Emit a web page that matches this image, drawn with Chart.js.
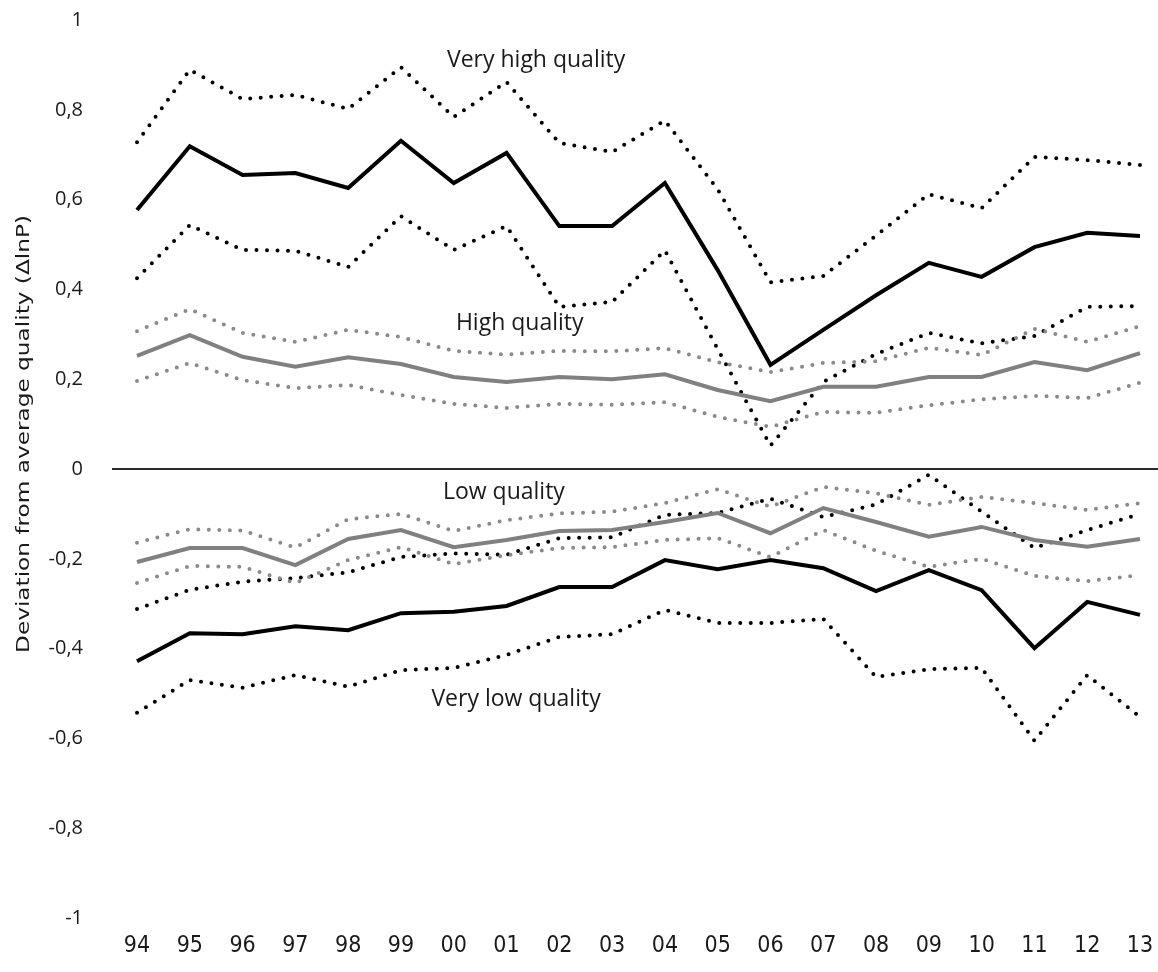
<!DOCTYPE html>
<html>
<head>
<meta charset="utf-8">
<script src="https://cdn.jsdelivr.net/npm/chart.js@4.4.1/dist/chart.umd.min.js"></script>
<style>
    html, body { margin: 0; padding: 0; background: #ffffff; }
    #wrap { width: 1158px; height: 972px; position: relative; }
</style>
</head>
<body>
<div id="wrap"><canvas id="grafico" width="1158" height="972"></canvas></div>
<script>
// Categorias (anos)
const anos = ['94', '95', '96', '97', '98', '99', '00', '01', '02', '03', '04', '05', '06', '07', '08', '09', '10', '11', '12', '13'];

// Very high quality
const veryHighMedia = [0.577, 0.719, 0.655, 0.659, 0.626, 0.731, 0.637, 0.704, 0.541, 0.541, 0.637, 0.443, 0.232, 0.31, 0.387, 0.459, 0.428, 0.494, 0.526, 0.519];
const veryHighSup = [0.728, 0.889, 0.824, 0.833, 0.802, 0.895, 0.784, 0.862, 0.726, 0.706, 0.776, 0.623, 0.416, 0.43, 0.52, 0.612, 0.581, 0.695, 0.688, 0.677];
const veryHighInf = [0.425, 0.543, 0.488, 0.486, 0.45, 0.563, 0.488, 0.541, 0.361, 0.372, 0.487, 0.267, 0.052, 0.194, 0.256, 0.303, 0.28, 0.296, 0.361, 0.363];

// High quality
const highMedia = [0.252, 0.298, 0.25, 0.228, 0.249, 0.234, 0.205, 0.194, 0.205, 0.2, 0.211, 0.176, 0.151, 0.183, 0.183, 0.205, 0.205, 0.238, 0.22, 0.258];
const highSup = [0.307, 0.356, 0.303, 0.283, 0.31, 0.294, 0.263, 0.255, 0.263, 0.262, 0.269, 0.238, 0.216, 0.236, 0.24, 0.27, 0.254, 0.312, 0.283, 0.318];
const highInf = [0.196, 0.236, 0.198, 0.18, 0.187, 0.165, 0.145, 0.136, 0.145, 0.143, 0.149, 0.116, 0.094, 0.127, 0.125, 0.142, 0.155, 0.163, 0.158, 0.192];

// Low quality
const lowMedia = [-0.207, -0.176, -0.176, -0.214, -0.156, -0.136, -0.174, -0.158, -0.138, -0.136, -0.118, -0.098, -0.143, -0.087, -0.118, -0.151, -0.129, -0.158, -0.173, -0.156];
const lowSup = [-0.164, -0.134, -0.137, -0.175, -0.112, -0.1, -0.138, -0.114, -0.099, -0.095, -0.076, -0.045, -0.084, -0.04, -0.054, -0.08, -0.062, -0.076, -0.091, -0.076];
const lowInf = [-0.254, -0.216, -0.218, -0.254, -0.203, -0.174, -0.212, -0.192, -0.176, -0.174, -0.158, -0.154, -0.196, -0.136, -0.182, -0.218, -0.2, -0.238, -0.25, -0.236];

// Very low quality
const veryLowMedia = [-0.428, -0.366, -0.368, -0.35, -0.359, -0.321, -0.318, -0.305, -0.263, -0.263, -0.203, -0.223, -0.203, -0.221, -0.272, -0.225, -0.27, -0.399, -0.296, -0.325];
const veryLowSup = [-0.312, -0.269, -0.251, -0.243, -0.23, -0.196, -0.188, -0.191, -0.154, -0.152, -0.102, -0.098, -0.066, -0.107, -0.079, -0.013, -0.095, -0.176, -0.136, -0.1];
const veryLowInf = [-0.543, -0.47, -0.487, -0.459, -0.485, -0.448, -0.443, -0.414, -0.374, -0.368, -0.314, -0.343, -0.343, -0.334, -0.463, -0.446, -0.443, -0.605, -0.459, -0.552];

// Eixo Y
const yTicks = [-1, -0.8, -0.6, -0.4, -0.2, 0, 0.2, 0.4, 0.6, 0.8, 1];
const tituloY = 'Deviation from average quality (ΔlnP)';

// Rotulos das faixas
const rotulos = ['Very high quality', 'High quality', 'Low quality', 'Very low quality'];

const PRETO = '#000000';
const CINZA = '#808080';
const CINZA_PONTO = '#8a8a8a';

function linhaCheia(dados, cor) {
    return {
        data: dados,
        borderColor: cor,
        borderWidth: 4,
        pointRadius: 0,
        tension: 0,
        fill: false
    };
}

function linhaPontilhada(dados, cor) {
    return {
        data: dados,
        borderColor: cor,
        borderWidth: 4,
        borderDash: [0, 10.5],
        borderCapStyle: 'round',
        pointRadius: 0,
        tension: 0,
        fill: false
    };
}

// Linha do zero, textos das faixas e titulo do eixo Y
const extras = {
    id: 'extras',
    beforeDatasetsDraw(chart) {
        const ctx = chart.ctx;
        const y = chart.scales.y.getPixelForValue(0);
        ctx.save();
        ctx.strokeStyle = '#2b2b2b';
        ctx.lineWidth = 2;
        ctx.beginPath();
        ctx.moveTo(chart.chartArea.left - 25, y);
        ctx.lineTo(chart.width, y);
        ctx.stroke();
        ctx.restore();
    },
    afterDatasetsDraw(chart) {
        const ctx = chart.ctx;
        const xs = chart.scales.x;
        const ys = chart.scales.y;
        const lugares = [[7.56, 0.911], [7.25, 0.325], [6.95, -0.053], [7.18, -0.514]];
        ctx.save();
        ctx.fillStyle = '#1a1a1a';
        ctx.font = '23px "Open Sans"';
        ctx.textAlign = 'center';
        ctx.textBaseline = 'middle';
        rotulos.forEach((txt, i) => {
            ctx.fillText(txt, xs.getPixelForValue(lugares[i][0]), ys.getPixelForValue(lugares[i][1]));
        });
        ctx.restore();

        // titulo do eixo Y (esticado como no original)
        ctx.save();
        ctx.font = '18px "DejaVu Sans Condensed", "Open Sans", sans-serif';
        ctx.fillStyle = '#1a1a1a';
        const w = ctx.measureText(tituloY).width;
        ctx.translate(24, 434);
        ctx.rotate(-Math.PI / 2);
        ctx.scale(438 / w, 1);
        ctx.textAlign = 'center';
        ctx.textBaseline = 'middle';
        ctx.fillText(tituloY, 0, 0);
        ctx.restore();
    }
};

const chart = new Chart(document.getElementById('grafico'), {
    type: 'line',
    data: {
        labels: anos,
        datasets: [
            linhaPontilhada(highSup, CINZA_PONTO),
            linhaPontilhada(highInf, CINZA_PONTO),
            linhaCheia(highMedia, CINZA),
            linhaPontilhada(lowSup, CINZA_PONTO),
            linhaPontilhada(lowInf, CINZA_PONTO),
            linhaCheia(lowMedia, CINZA),
            linhaPontilhada(veryHighSup, PRETO),
            linhaPontilhada(veryHighInf, PRETO),
            linhaCheia(veryHighMedia, PRETO),
            linhaPontilhada(veryLowSup, PRETO),
            linhaPontilhada(veryLowInf, PRETO),
            linhaCheia(veryLowMedia, PRETO)
        ]
    },
    options: {
        responsive: false,
        animation: false,
        layout: { padding: { top: 20, right: 18, left: 0, bottom: 0 } },
        plugins: {
            legend: { display: false },
            tooltip: { enabled: false }
        },
        scales: {
            x: {
                offset: false,
                grid: { display: false, drawTicks: false },
                border: { display: false },
                ticks: {
                    color: '#1a1a1a',
                    padding: 14,
                    maxRotation: 0,
                    autoSkip: false,
                    font: { family: '"DejaVu Sans Condensed", "Liberation Sans Narrow", sans-serif', size: 23 }
                },
                afterFit(scale) {
                    scale.height = 54;
                    scale.paddingLeft = 0;
                    scale.paddingRight = 0;
                }
            },
            y: {
                min: -1,
                max: 1,
                grid: { display: false, drawTicks: false },
                border: { display: false },
                afterBuildTicks(scale) {
                    scale.ticks = yTicks.map(v => ({ value: v }));
                },
                ticks: {
                    color: '#1a1a1a',
                    padding: 54,
                    font: { family: '"Open Sans"', size: 20 },
                    callback: v => String(Math.round(v * 10) / 10).replace('.', ',')
                },
                afterFit(scale) {
                    scale.width = 137;
                    scale.paddingTop = 0;
                    scale.paddingBottom = 0;
                }
            }
        }
    },
    plugins: [extras]
});
</script>
</body>
</html>
